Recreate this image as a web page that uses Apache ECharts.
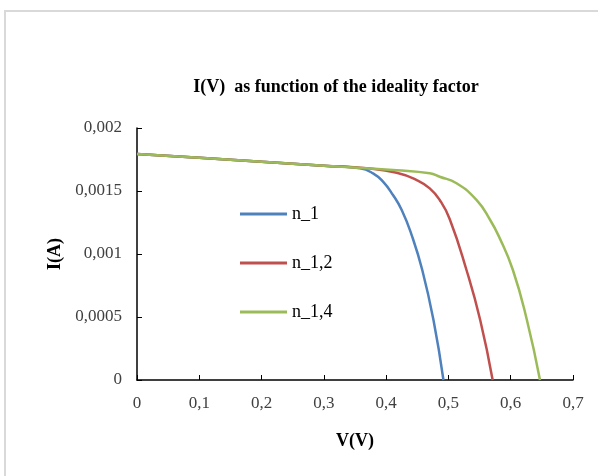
<!DOCTYPE html>
<html>
<head>
<meta charset="utf-8">
<title>I(V)</title>
<script src="https://cdn.jsdelivr.net/npm/echarts@6/dist/echarts.min.js"></script>
<style>
	html, body { margin: 0; padding: 0; background: #fff; }
	#iv_chart { width: 598px; height: 476px; }
</style>
</head>
<body>
<div id="iv_chart"></div>
<script>
// values: voltage (V) and current (A)
var v_n1 = [0, 0.1, 0.2, 0.3, 0.358, 0.379, 0.395, 0.411, 0.425, 0.441, 0.458, 0.476, 0.492];
var i_n1 = [0.001794, 0.001763, 0.001732, 0.001701, 0.00168, 0.00164, 0.001574, 0.001468, 0.001349, 0.00115, 0.000873, 0.000476, 0];

var v_n12 = [0, 0.1, 0.2, 0.3, 0.369, 0.417, 0.449, 0.470, 0.486, 0.502, 0.529, 0.551, 0.571];
var i_n12 = [0.001794, 0.001763, 0.001732, 0.001701, 0.00168, 0.001645, 0.001587, 0.001521, 0.001429, 0.001278, 0.000873, 0.000476, 0];

var v_n14 = [0, 0.1, 0.2, 0.3, 0.417, 0.470, 0.486, 0.513, 0.545, 0.567, 0.581, 0.6035, 0.626, 0.647];
var i_n14 = [0.001794, 0.001763, 0.001732, 0.001701, 0.001664, 0.00164, 0.001613, 0.001561, 0.001429, 0.00127, 0.00114, 0.000873, 0.000476, 0];

var series_names = ['n_1', 'n_1,2', 'n_1,4'];
var series_colors = ['#4f81bd', '#c0504d', '#9bbb59'];

var iv_chart = {
	/**
	 * init
	 */
	init : function(){
		var myChart = echarts.init(document.getElementById('iv_chart'));
		myChart.setOption(iv_chart.get_option());
	},

	/**
	 * zip the voltage and current arrays into points
	 */
	to_points : function(v, i){
		var out = [];
		for (var k = 0; k < v.length; k++) {
			out.push([v[k], i[k]]);
		}
		return out;
	},

	/**
	 * decimal comma
	 */
	comma : function(value){
		return String(Number(value.toFixed(5))).replace('.', ',');
	},

	get_series : function(name, color, data){
		return {
			name : name,
			type : 'line',
			smooth : 0.5,
			showSymbol : false,
			lineStyle : { color : color, width : 2.5 },
			itemStyle : { color : color },
			data : data
		};
	},

	get_option : function(){
		var font = '"Liberation Serif", "Times New Roman", serif';
		var option = {
			animation : false,
			textStyle : { fontFamily : font },
			graphic : [{
				type : 'rect',
				silent : true,
				shape : { x : 5, y : 11, width : 700, height : 600 },
				style : { fill : 'none', stroke : '#d9d9d9', lineWidth : 2 }
			}],
			title : {
				text : 'I(V)  as function of the ideality factor',
				left : 331,
				top : 73,
				textAlign : 'center',
				textStyle : { fontFamily : font, fontSize : 18, fontWeight : 'bold', color : '#000' }
			},
			legend : {
				orient : 'vertical',
				left : 235,
				top : 200,
				itemWidth : 47,
				itemHeight : 3,
				itemGap : 31,
				icon : 'rect',
				data : series_names,
				textStyle : { fontFamily : font, fontSize : 18, color : '#000' }
			},
			grid : {
				left : 137,
				top : 128,
				right : 25,
				bottom : 96,
				containLabel : false,
				outerBoundsMode : 'none'
			},
			xAxis : {
				type : 'value',
				min : 0,
				max : 0.7,
				interval : 0.1,
				name : 'V(V)',
				nameLocation : 'middle',
				nameGap : 52,
				nameTextStyle : { fontFamily : font, fontSize : 18, fontWeight : 'bold', color : '#000' },
				axisLine : { show : true, lineStyle : { color : '#000', width : 1.5 } },
				axisTick : { show : true, inside : true, length : 5, lineStyle : { color : '#000' } },
				splitLine : { show : false },
				axisLabel : {
					margin : 15,
					fontFamily : font,
					fontSize : 17,
					color : '#404040',
					formatter : function(v){ return iv_chart.comma(v); }
				}
			},
			yAxis : {
				type : 'value',
				min : 0,
				max : 0.002,
				interval : 0.0005,
				name : 'I(A)',
				nameLocation : 'middle',
				nameGap : 72,
				nameRotate : 90,
				nameTextStyle : { fontFamily : font, fontSize : 18, fontWeight : 'bold', color : '#000' },
				axisLine : { show : true, lineStyle : { color : '#000', width : 1.5 } },
				axisTick : { show : true, inside : true, length : 5, lineStyle : { color : '#000' } },
				splitLine : { show : false },
				axisLabel : {
					margin : 15,
					fontFamily : font,
					fontSize : 17,
					color : '#404040',
					formatter : function(v){ return iv_chart.comma(v); }
				}
			},
			series : [
				iv_chart.get_series(series_names[0], series_colors[0], iv_chart.to_points(v_n1, i_n1)),
				iv_chart.get_series(series_names[1], series_colors[1], iv_chart.to_points(v_n12, i_n12)),
				iv_chart.get_series(series_names[2], series_colors[2], iv_chart.to_points(v_n14, i_n14))
			]
		};
		return option;
	}
};

iv_chart.init();
</script>
</body>
</html>
